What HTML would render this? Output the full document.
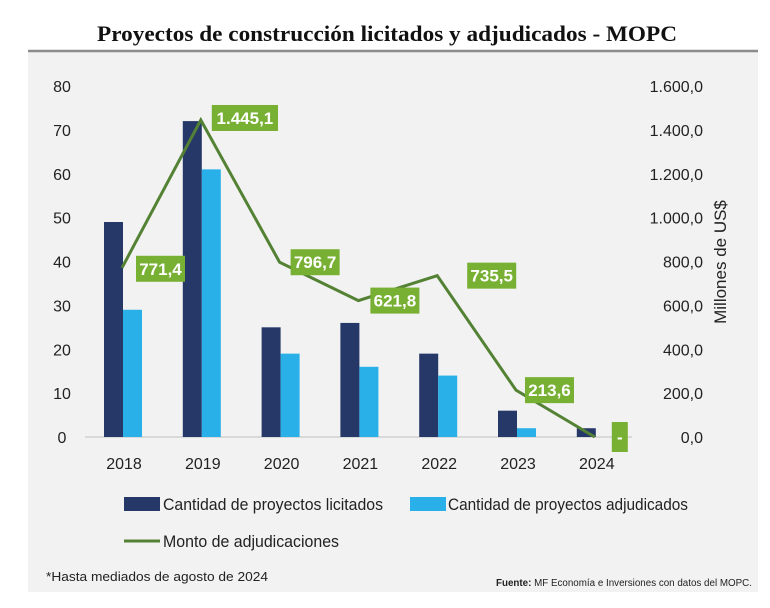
<!DOCTYPE html>
<html><head><meta charset="utf-8"><style>
html,body{margin:0;padding:0;background:#fff;}
svg{display:block;font-family:"Liberation Sans Narrow","Liberation Sans",sans-serif;}
</style></head><body>
<svg id="c" width="770" height="608" viewBox="0 0 770 608">
<rect x="28" y="52" width="730" height="540" fill="#f2f2f2"/>
<line x1="28" y1="51" x2="758" y2="51" stroke="#8c8c8c" stroke-width="2.5"/>
<text x="387" y="41" text-anchor="middle" font-family="Liberation Serif, serif" font-weight="bold" font-size="22" textLength="580" lengthAdjust="spacingAndGlyphs" fill="#111">Proyectos de construcción licitados y adjudicados - MOPC</text>
<g id="plot"></g>
<text transform="translate(726,262) rotate(-90)" text-anchor="middle" font-size="17" fill="#222">Millones de US$</text>
<rect x="124" y="497" width="36" height="14" fill="#253868"/>
<text x="163" y="510" font-size="17" textLength="220" lengthAdjust="spacingAndGlyphs" fill="#222">Cantidad de proyectos licitados</text>
<rect x="410" y="497" width="36" height="14" fill="#29b0e8"/>
<text x="448" y="510" font-size="17" textLength="240" lengthAdjust="spacingAndGlyphs" fill="#222">Cantidad de proyectos adjudicados</text>
<line x1="124" y1="541" x2="160" y2="541" stroke="#548235" stroke-width="3"/>
<text x="163" y="547" font-size="17" textLength="176" lengthAdjust="spacingAndGlyphs" fill="#222">Monto de adjudicaciones</text>
<text x="46" y="581" font-size="13" textLength="222" lengthAdjust="spacingAndGlyphs" fill="#222">*Hasta mediados de agosto de 2024</text>
<text x="752" y="586" text-anchor="end" font-size="10" textLength="256" lengthAdjust="spacingAndGlyphs" fill="#222"><tspan font-weight="bold">Fuente:</tspan> MF Economía e Inversiones con datos del MOPC.</text>
</svg>
<script>
const categories=["2018","2019","2020","2021","2022","2023","2024"];
const licitados=[49,72,25,26,19,6,2];
const adjudicados=[29,61,19,16,14,2,0];
const monto=[771.4,1445.1,796.7,621.8,735.5,213.6,0];
const montoLabels=["771,4","1.445,1","796,7","621,8","735,5","213,6","-"];
const leftTicks=[0,10,20,30,40,50,60,70,80];
const rightTicks=["0,0","200,0","400,0","600,0","800,0","1.000,0","1.200,0","1.400,0","1.600,0"];
const NS="http://www.w3.org/2000/svg";
const g=document.getElementById('plot');
const y0=437,y1=86;
const yL=v=>y0-(v/80)*(y0-y1);
const yR=v=>y0-(v/1600)*(y0-y1);
const xC=i=>124+i*78.8;
function mk(t,a){const e=document.createElementNS(NS,t);for(const k in a)e.setAttribute(k,a[k]);g.appendChild(e);return e;}
let base=mk('line',{x1:85,y1:y0,x2:632,y2:y0,stroke:'#d9d9d9','stroke-width':2});


leftTicks.forEach((v,i)=>{
 const t=mk('text',{x:62,y:yL(v)+6,'text-anchor':'middle','font-size':16,fill:'#222'});t.textContent=v;
 
 
 const r=mk('text',{x:703,y:yL(v)+6,'text-anchor':'end','font-size':16,fill:'#222'});r.textContent=rightTicks[i];
 
 
});
categories.forEach((c,i)=>{
 const x=xC(i);
 const b1=mk('rect',{x:x-20,y:yL(licitados[i]),width:19,height:y0-yL(licitados[i]),fill:'#253868'});
 
 
 const b2=mk('rect',{x:x-1,y:yL(adjudicados[i]),width:19,height:y0-yL(adjudicados[i]),fill:'#29b0e8'});
 
 
 const t=mk('text',{x:x,y:469,'text-anchor':'middle','font-size':16,fill:'#222'});t.textContent=c;
 
 
});
const pl=mk('polyline',{points:monto.map((v,i)=>(xC(i)-2)+','+yR(v)).join(' '),fill:'none',stroke:'#548235','stroke-width':3});


const offs=[[12,1],[9,-2],[9,0],[10,0],[28,0],[7,0],[15,1]];
monto.forEach((v,i)=>{
 const lab=montoLabels[i];
 const w=lab==='-'?16:(lab.length*8.6+6);
 const h=lab==='-'?30:26;
 const x=xC(i)+offs[i][0], y=yR(v)+offs[i][1]-(lab==='-'?16:13);
 const r=mk('rect',{x:x,y:y,width:w,height:h,fill:'#77b032'});
 
 
 const t=mk('text',{x:x+w/2,y:y+h/2+6,'text-anchor':'middle','font-size':17,'font-weight':'bold',fill:'#fff'});t.textContent=lab;
 
 
});
</script>
</body></html>
